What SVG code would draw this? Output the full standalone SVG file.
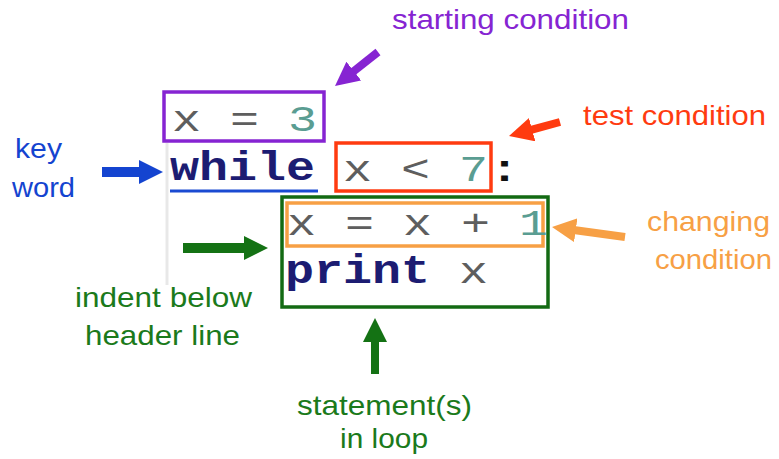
<svg xmlns="http://www.w3.org/2000/svg" width="779" height="459" viewBox="0 0 779 459">
  <style>
    .code { font-family: "Liberation Mono", "Courier New", monospace; font-size: 36px; }
    .op { fill: #5e5e5e; }
    .num { fill: #5a9d92; }
    .kw { fill: #1c1c72; font-weight: bold; font-size: 40px; }
    .lbl { font-family: "Liberation Sans", Arial, sans-serif; font-size: 28px; }
    .box { fill: none; stroke-width: 3.5; }
    .arr { fill: none; stroke-linecap: butt; }
  </style>
  <defs>
    <marker id="hPurple" markerUnits="userSpaceOnUse" viewBox="0 0 24 24" markerWidth="24" markerHeight="24" refX="4" refY="12" orient="auto"><path d="M0,0 L24,12 L0,24 z" fill="#8624d2"/></marker>
    <marker id="hRed" markerUnits="userSpaceOnUse" viewBox="0 0 24 24" markerWidth="24" markerHeight="24" refX="4" refY="12" orient="auto"><path d="M0,0 L24,12 L0,24 z" fill="#ff3b10"/></marker>
    <marker id="hBlue" markerUnits="userSpaceOnUse" viewBox="0 0 24 24" markerWidth="24" markerHeight="24" refX="4" refY="12" orient="auto"><path d="M0,0 L24,12 L0,24 z" fill="#1444d0"/></marker>
    <marker id="hOrange" markerUnits="userSpaceOnUse" viewBox="0 0 24 24" markerWidth="24" markerHeight="24" refX="4" refY="12" orient="auto"><path d="M0,0 L24,12 L0,24 z" fill="#f7a045"/></marker>
    <marker id="hGreen" markerUnits="userSpaceOnUse" viewBox="0 0 24 24" markerWidth="24" markerHeight="24" refX="4" refY="12" orient="auto"><path d="M0,0 L24,12 L0,24 z" fill="#147214"/></marker>
  </defs>
  <rect width="779" height="459" fill="#ffffff"/>

  <!-- editor gutter -->
  <line x1="167" y1="143" x2="167" y2="285" stroke="#e8e8e8" stroke-width="3"/>

  <g id="init-line">
    <rect class="box" x="164" y="92" width="160" height="49" stroke="#8624d2"/>
    <text class="code" x="172" y="131" textLength="145" lengthAdjust="spacingAndGlyphs"><tspan class="op">x = </tspan><tspan class="num">3</tspan></text>
  </g>

  <g id="while-keyword">
    <text class="code kw" x="170" y="180" textLength="145" lengthAdjust="spacingAndGlyphs">while</text>
    <line x1="170" y1="191" x2="318" y2="191" stroke="#1a4bd2" stroke-width="3"/>
  </g>

  <g id="test-expr">
    <rect class="box" x="336" y="143" width="155" height="48" stroke="#ff3b10"/>
    <text class="code" x="343" y="181" textLength="145" lengthAdjust="spacingAndGlyphs"><tspan class="op">x &lt; </tspan><tspan class="num">7</tspan></text>
    <text class="code" x="490" y="181" fill="#111111" font-weight="bold" font-size="40" textLength="29" lengthAdjust="spacingAndGlyphs">:</text>
  </g>

  <g id="loop-body">
    <rect class="box" x="282" y="197" width="266" height="110" stroke="#136a13"/>
  </g>

  <g id="update-line">
    <rect class="box" x="287" y="203" width="256" height="43" stroke="#f7a045"/>
    <text class="code" x="287" y="235" textLength="261" lengthAdjust="spacingAndGlyphs"><tspan class="op">x = x + </tspan><tspan class="num">1</tspan></text>
  </g>

  <g id="print-line">
    <text class="code kw" x="285" y="283" textLength="145" lengthAdjust="spacingAndGlyphs">print</text>
    <text class="code op" x="459" y="283" textLength="29" lengthAdjust="spacingAndGlyphs">x</text>
  </g>

  <g id="label-starting">
    <text class="lbl" x="392" y="29" fill="#8624d2" textLength="237" lengthAdjust="spacingAndGlyphs">starting condition</text>
  </g>
  <g id="label-test">
    <text class="lbl" x="583" y="125" fill="#ff3b10" textLength="183" lengthAdjust="spacingAndGlyphs">test condition</text>
  </g>
  <g id="label-keyword">
    <text class="lbl" x="15" y="158" fill="#1444d0" textLength="47" lengthAdjust="spacingAndGlyphs">key</text>
    <text class="lbl" x="12" y="197" fill="#1444d0" textLength="63" lengthAdjust="spacingAndGlyphs">word</text>
  </g>
  <g id="label-changing">
    <text class="lbl" x="647" y="231" fill="#f7a045" textLength="123" lengthAdjust="spacingAndGlyphs">changing</text>
    <text class="lbl" x="655" y="269" fill="#f7a045" textLength="117" lengthAdjust="spacingAndGlyphs">condition</text>
  </g>
  <g id="label-indent">
    <text class="lbl" x="75" y="307" fill="#1b7a1b" textLength="177" lengthAdjust="spacingAndGlyphs">indent below</text>
    <text class="lbl" x="85" y="345" fill="#1b7a1b" textLength="155" lengthAdjust="spacingAndGlyphs">header line</text>
  </g>
  <g id="label-statements">
    <text class="lbl" x="297" y="415" fill="#1b7a1b" textLength="175" lengthAdjust="spacingAndGlyphs">statement(s)</text>
    <text class="lbl" x="340" y="448" fill="#1b7a1b" textLength="88" lengthAdjust="spacingAndGlyphs">in loop</text>
  </g>

  <g id="connectors">
    <line class="arr" x1="378" y1="52" x2="350.7" y2="73.6" stroke="#8624d2" stroke-width="8" marker-end="url(#hPurple)"/>
    <line class="arr" x1="560" y1="122" x2="528.3" y2="130.7" stroke="#ff3b10" stroke-width="8" marker-end="url(#hRed)"/>
    <line class="arr" x1="102" y1="172" x2="143" y2="172" stroke="#1444d0" stroke-width="10" marker-end="url(#hBlue)"/>
    <line class="arr" x1="625" y1="237" x2="571.8" y2="229.7" stroke="#f7a045" stroke-width="8" marker-end="url(#hOrange)"/>
    <line class="arr" x1="183" y1="248" x2="248" y2="248" stroke="#147214" stroke-width="10" marker-end="url(#hGreen)"/>
    <line class="arr" x1="375" y1="374" x2="375" y2="338" stroke="#147214" stroke-width="8" marker-end="url(#hGreen)"/>
  </g>
</svg>
